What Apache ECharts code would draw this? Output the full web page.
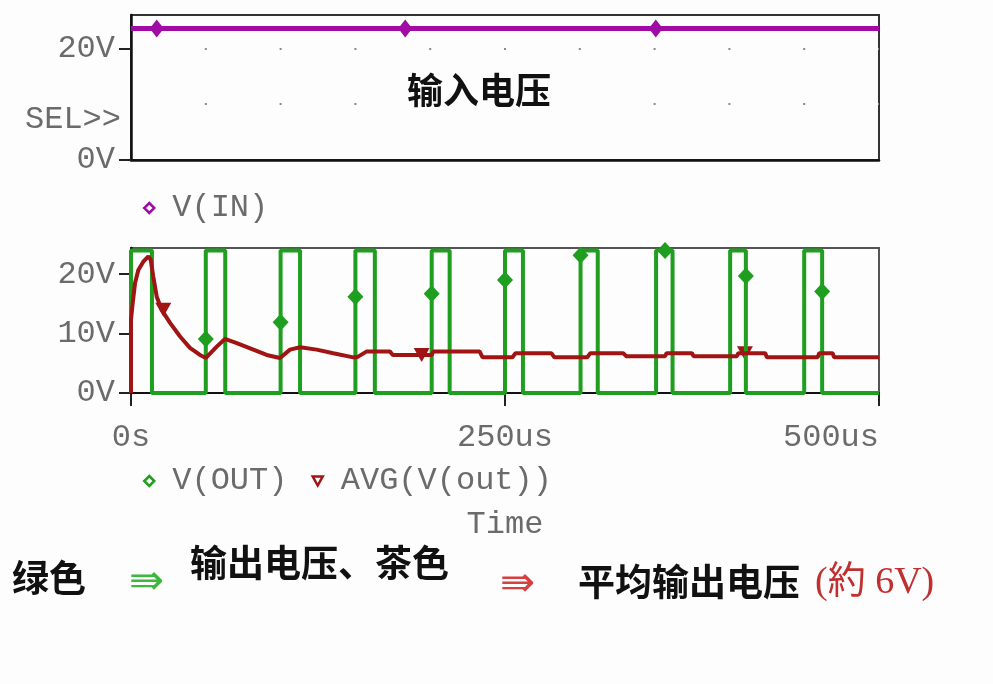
<!DOCTYPE html>
<html>
<head>
<meta charset="utf-8">
<script src="https://cdn.jsdelivr.net/npm/echarts@6/dist/echarts.min.js"></script>
<style>
  html, body { margin: 0; padding: 0; background: #fdfdfd; }
  #chart { width: 993px; height: 684px; }
</style>
</head>
<body>
<div id="chart"></div>
<script>
// Input voltage V(IN), in microseconds / volts
const inputTime = [0, 500];
const inputVolts = [23.6, 23.6];
const inputMarkTime = [17.2, 183.3, 350.8];
const inputMarkVolts = [23.6, 23.6, 23.6];

// Switched output V(OUT): rising and falling edge times of each pulse
const pulseRise = [0, 50, 100, 150, 201, 250, 300.5, 351, 400.5, 450];
const pulseFall = [14, 63, 113, 163, 213, 262, 312, 362, 411, 462];
const pulseHigh = [24];
const pulseLow = [0];
const outEnd = [500];
const outMarkTime = [50, 100, 150, 201, 250, 300.5, 357, 411, 462];
const outMarkVolts = [9.1, 11.9, 16.2, 16.7, 19.0, 23.2, 24, 19.7, 17.1];

// Running average AVG(V(out))
const avgTime = [0, 0, 0.9, 2.7, 4.9, 8.2, 11.6, 13.2, 14.9, 17.2, 20.5, 26.1, 32.8, 39.4, 46.1,
  50.1, 57.3, 62.8, 70.7, 81.8, 90.7, 99.6, 106.3, 113, 124.1, 135.2, 148.6, 151, 157.6,
  173, 175, 201, 202, 233, 235, 255, 257, 281, 283, 305, 307, 329, 331, 357, 358, 375,
  376, 405, 406, 424, 425, 459, 460, 469, 470, 500];
const avgVolts = [0, 12.3, 14.6, 18.5, 20.7, 22.1, 23.0, 22.4, 19.6, 16.2, 14.0, 11.8, 9.5, 7.6, 6.4,
  5.9, 7.8, 9.1, 8.4, 7.3, 6.4, 5.9, 7.3, 7.7, 7.3, 6.7, 6.0, 6.0, 7.0,
  7.0, 6.4, 6.4, 7.0, 7.0, 6.0, 6.0, 6.7, 6.7, 6.0, 6.0, 6.7, 6.7, 6.2, 6.2, 6.7, 6.7,
  6.2, 6.2, 6.7, 6.7, 6.0, 6.0, 6.7, 6.7, 6.0, 6.0];
const avgMarkTime = [21.6, 194.3, 410.4];
const avgMarkVolts = [14.0, 6.4, 6.7];

// Axis ticks
const topYTicks = [0, 20];
const bottomYTicks = [0, 10, 20];
const timeTicks = [0, 250, 500];

const PURPLE = '#a00aa5';
const GREEN = '#1f9e1f';
const RED = '#a01414';
const BG = '#fdfdfd';
const MONO = '"Liberation Mono", "Courier New", monospace';
const CJK = '"Noto Sans CJK SC", sans-serif';
const GREY = '#6b6b6b';

const zip = (xs, ys) => xs.map((x, i) => [x, ys[i]]);

// Square-wave polyline from the edge lists
const outLine = [];
pulseRise.forEach((r, i) => {
  outLine.push([r, pulseLow[0]], [r, pulseHigh[0]], [pulseFall[i], pulseHigh[0]], [pulseFall[i], pulseLow[0]]);
});
outLine.push([outEnd[0], pulseLow[0]]);

const monoLabel = { fontFamily: MONO, fontSize: 32, color: GREY, lineHeight: 32 };
const legendText = Object.assign({}, monoLabel, { rich: { g: { width: 13 } } });
const legendFormatter = name => '{g|}' + name;

const chart = echarts.init(document.getElementById('chart'), null, { renderer: 'canvas' });
chart.setOption({
  backgroundColor: BG,
  animation: false,
  grid: [
    { left: 131, top: 15, width: 748, height: 145, show: true, borderColor: '#333', borderWidth: 2 },
    { left: 131, top: 248, width: 748, height: 145, show: true, borderColor: '#555', borderWidth: 2 }
  ],
  xAxis: [
    {
      gridIndex: 0, type: 'value', min: 0, max: 500, interval: 250,
      axisLine: { lineStyle: { color: '#111', width: 2.5 } },
      axisTick: { show: false }, axisLabel: { show: false }, splitLine: { show: false }
    },
    {
      gridIndex: 1, type: 'value', min: 0, max: 500, interval: 250,
      axisLine: { lineStyle: { color: '#111', width: 2 } },
      axisTick: { show: true, length: 13, lineStyle: { color: '#222', width: 2 }, customValues: timeTicks },
      axisLabel: Object.assign({}, monoLabel, {
        margin: 29, customValues: timeTicks, alignMaxLabel: 'right',
        formatter: v => (v === 0 ? '0s' : v + 'us')
      }),
      splitLine: { show: false },
      name: 'Time', nameLocation: 'middle', nameGap: 116,
      nameTextStyle: monoLabel
    }
  ],
  yAxis: [
    {
      gridIndex: 0, type: 'value', min: 0, max: 26, interval: 10,
      axisLine: { show: true, lineStyle: { color: '#111', width: 2.5 } },
      axisTick: { show: true, length: 12, lineStyle: { color: '#222', width: 2 }, customValues: topYTicks },
      axisLabel: Object.assign({}, monoLabel, { margin: 16, customValues: topYTicks, formatter: v => v + 'V' }),
      splitLine: { show: false }
    },
    {
      // dotted grid of the input panel
      gridIndex: 0, type: 'value', min: 0, max: 26, interval: 10,
      axisLine: { show: false }, axisTick: { show: false }, axisLabel: { show: false },
      splitLine: {
        show: true, showMinLine: false, showMaxLine: false,
        lineStyle: { color: '#8a8a8a', width: 2, type: [2, 72.8], dashOffset: 1 }
      }
    },
    {
      gridIndex: 1, type: 'value', min: 0, max: 24.4, interval: 10,
      axisLine: { show: true, lineStyle: { color: '#111', width: 2.5 } },
      axisTick: { show: true, length: 12, lineStyle: { color: '#222', width: 2 }, customValues: bottomYTicks },
      axisLabel: Object.assign({}, monoLabel, { margin: 16, customValues: bottomYTicks, formatter: v => v + 'V' }),
      splitLine: { show: false }
    }
  ],
  legend: [
    {
      left: 138, top: 187, itemWidth: 10, itemHeight: 10, itemGap: 24,
      textStyle: legendText, formatter: legendFormatter,
      data: [{ name: 'V(IN)', icon: 'diamond', itemStyle: { color: BG, borderColor: PURPLE, borderWidth: 2.5 } }]
    },
    {
      left: 138, top: 460, itemWidth: 10, itemHeight: 10, itemGap: 24,
      textStyle: legendText, formatter: legendFormatter,
      data: [
        { name: 'V(OUT)', icon: 'diamond', itemStyle: { color: BG, borderColor: GREEN, borderWidth: 2.5 } },
        { name: 'AVG(V(out))', icon: 'path://M0,0 L10,0 L5,9 Z', itemStyle: { color: BG, borderColor: RED, borderWidth: 2.5 } }
      ]
    }
  ],
  series: [
    {
      name: 'V(IN)', type: 'line', xAxisIndex: 0, yAxisIndex: 0,
      data: zip(inputTime, inputVolts), showSymbol: false, symbol: 'none',
      lineStyle: { color: PURPLE, width: 5 }, itemStyle: { color: PURPLE }
    },
    {
      name: 'V(IN)', type: 'scatter', xAxisIndex: 0, yAxisIndex: 0,
      data: zip(inputMarkTime, inputMarkVolts), symbol: 'diamond', symbolSize: [14, 18],
      itemStyle: { color: PURPLE, opacity: 1 }
    },
    {
      name: 'V(OUT)', type: 'line', xAxisIndex: 1, yAxisIndex: 2,
      data: outLine, showSymbol: false, symbol: 'none',
      lineStyle: { color: GREEN, width: 4 }, itemStyle: { color: GREEN }
    },
    {
      name: 'V(OUT)', type: 'scatter', xAxisIndex: 1, yAxisIndex: 2,
      data: zip(outMarkTime, outMarkVolts), symbol: 'diamond', symbolSize: [16, 17],
      itemStyle: { color: GREEN, opacity: 1 }
    },
    {
      name: 'AVG(V(out))', type: 'line', xAxisIndex: 1, yAxisIndex: 2,
      data: zip(avgTime, avgVolts), showSymbol: false, symbol: 'none',
      lineStyle: { color: RED, width: 4 }, itemStyle: { color: RED }
    },
    {
      name: 'AVG(V(out))', type: 'scatter', xAxisIndex: 1, yAxisIndex: 2,
      data: zip(avgMarkTime, avgMarkVolts), symbol: 'triangle', symbolRotate: 180, symbolSize: [16, 14],
      itemStyle: { color: RED, opacity: 1 }
    }
  ],
  graphic: [
    {
      type: 'text', x: 395, y: 90, z: 10,
      style: {
        text: '输入电压', font: 'bold 36px ' + CJK, fill: '#111', verticalAlign: 'middle',
        backgroundColor: BG, padding: [4, 36, 10, 12]
      }
    },
    { type: 'text', x: 25, y: 120, style: { text: 'SEL>>', font: '32px ' + MONO, fill: GREY, verticalAlign: 'middle' } },
    { type: 'text', x: 12, y: 578, style: { text: '绿色', font: 'bold 37px ' + CJK, fill: '#111', verticalAlign: 'middle' } },
    { type: 'text', x: 129, y: 583, style: { text: '⇛', font: '42px "DejaVu Sans"', fill: '#3cb83c', verticalAlign: 'middle' } },
    { type: 'text', x: 190, y: 563, style: { text: '输出电压、茶色', font: 'bold 37px ' + CJK, fill: '#111', verticalAlign: 'middle' } },
    { type: 'text', x: 500, y: 585, style: { text: '⇛', font: '42px "DejaVu Sans"', fill: '#d84040', verticalAlign: 'middle' } },
    { type: 'text', x: 578, y: 582, style: { text: '平均输出电压', font: 'bold 37px ' + CJK, fill: '#111', verticalAlign: 'middle' } },
    { type: 'text', x: 815, y: 583, style: { text: '(約 6V)', font: '38px "Liberation Serif", "Noto Sans CJK JP"', fill: '#c03030', verticalAlign: 'middle' } }
  ]
});
</script>
</body>
</html>
